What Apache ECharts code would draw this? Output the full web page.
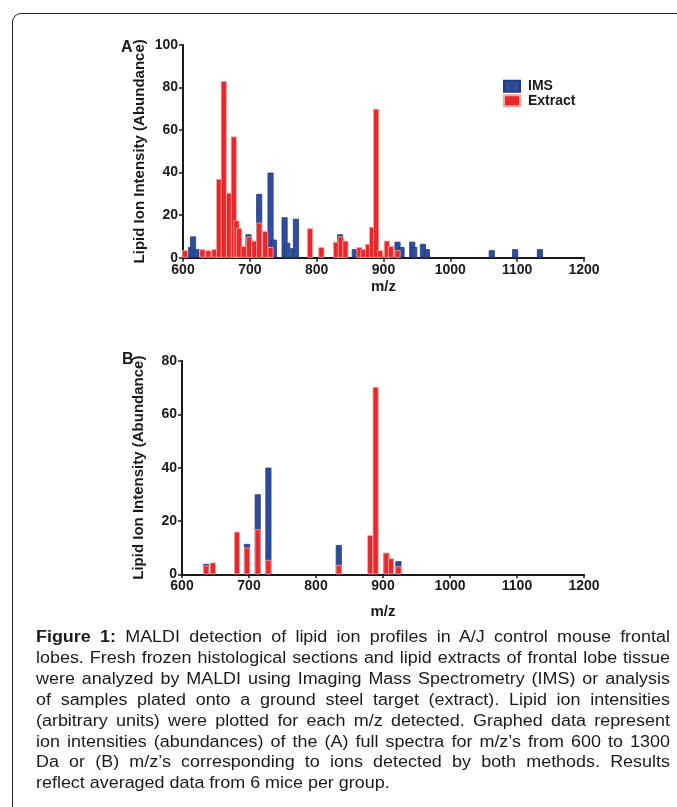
<!DOCTYPE html>
<html>
<head>
<meta charset="utf-8">
<script src="https://cdn.jsdelivr.net/npm/echarts@6/dist/echarts.min.js"></script>
<style>
  html, body { margin:0; padding:0; background:#fff; }
  #wrap { position:relative; width:677px; height:807px; overflow:hidden; background:#fff; }
  #frame { position:absolute; left:12px; top:13px; width:720px; height:830px; border:1.5px solid #222; border-radius:9px; box-sizing:border-box; }
  #chart { position:absolute; left:0; top:0; width:677px; height:807px; }
  #caption { position:absolute; left:36px; top:627px; width:566px; transform:scaleX(1.12); transform-origin:0 0; font-family:"Liberation Sans", Arial, sans-serif; font-size:16px; line-height:20.9px; color:#1a1a1a; }
  #caption div { text-align:justify; text-align-last:justify; white-space:nowrap; }
  #caption div.last { text-align-last:left; }
</style>
</head>
<body>
<div id="wrap">
  <div id="frame"></div>
  <div id="chart"></div>
  <div id="caption">
    <div><b>Figure 1:</b> MALDI detection of lipid ion profiles in A/J control mouse frontal</div>
    <div>lobes. Fresh frozen histological sections and lipid extracts of frontal lobe tissue</div>
    <div>were analyzed by MALDI using Imaging Mass Spectrometry (IMS) or analysis</div>
    <div>of samples plated onto a ground steel target (extract). Lipid ion intensities</div>
    <div>(arbitrary units) were plotted for each m/z detected. Graphed data represent</div>
    <div>ion intensities (abundances) of the (A) full spectra for m/z’s from 600 to 1300</div>
    <div>Da or (B) m/z’s corresponding to ions detected by both methods. Results</div>
    <div class="last">reflect averaged data from 6 mice per group.</div>
  </div>
</div>
<script>
// ---- Data ----
// Panel A: full spectra
const imsA_mz  = [612, 615, 620, 698, 714, 731, 736, 752, 756, 765, 769, 835, 857, 921, 927, 943, 946, 959, 965, 1062, 1097, 1134];
const imsA_val = [5, 10, 4, 11, 30, 40, 8.5, 19, 7, 4.5, 18.3, 11, 4, 7.5, 5, 7.5, 5, 6.5, 4, 3.5, 4, 4];
const extA_mz  = [603, 629, 638, 647, 654, 661, 669, 676, 680, 684, 691, 699, 707, 714, 723, 731, 790, 807, 829, 836, 843, 864, 870, 877, 883, 889, 895, 905, 911, 921];
const extA_val = [3.5, 4, 3.5, 4, 37, 83, 30.5, 57, 17.5, 14, 5.5, 10, 8, 16.5, 12.5, 5, 13.8, 5, 7.5, 10, 8, 5, 4, 6.5, 14.5, 70, 3.5, 8, 5.5, 3.5];
// Panel B: ions detected by both methods
const imsB_mz  = [636, 697, 713, 729, 834, 905, 923];
const imsB_val = [3.9, 11.4, 30, 40, 11, 8, 4.9];
const extB_mz  = [636, 646, 682, 697, 713, 729, 834, 881, 889, 905, 912, 923];
const extB_val = [3.3, 4.4, 16, 10, 16.9, 5.4, 3.5, 14.7, 70.3, 8.1, 6, 3];
// Axis ticks
const xTicks = { min: 600, max: 1200, interval: 100 };
const yTicksA = { min: 0, max: 100, interval: 20 };
const yTicksB = { min: 0, max: 80, interval: 20 };
const seriesNames = ['IMS', 'Extract'];

// ---- Chart ----
const FONT = '"Liberation Sans", Arial, sans-serif';
const BLUE = '#2f4d9c';
const RED = '#e8262b';
const pair = (xs, ys) => xs.map((x, i) => [x, ys[i]]);

function xAxis(gridIndex, nameGap) {
  return {
    type: 'value', gridIndex, min: xTicks.min, max: xTicks.max, interval: xTicks.interval,
    name: 'm/z', nameLocation: 'middle', nameGap, nameMoveOverlap: false,
    nameTextStyle: { fontFamily: FONT, fontWeight: 'bold', fontSize: 15, color: '#1a1a1a' },
    axisLine: { show: true, lineStyle: { color: '#1a1a1a', width: 2 } },
    axisTick: { show: true, inside: false, length: 4, lineStyle: { color: '#1a1a1a', width: 1.5 } },
    axisLabel: { margin: 5, fontFamily: FONT, fontWeight: 'bold', fontSize: 14, color: '#1a1a1a', formatter: v => String(v) },
    splitLine: { show: false }
  };
}
function yAxis(gridIndex, t) {
  return {
    type: 'value', gridIndex, min: t.min, max: t.max, interval: t.interval,
    name: 'Lipid Ion Intensity (Abundance)', nameLocation: 'middle', nameGap: 36, nameRotate: 90, nameMoveOverlap: false,
    nameTextStyle: { fontFamily: FONT, fontWeight: 'bold', fontSize: 15, color: '#1a1a1a' },
    axisLine: { show: true, lineStyle: { color: '#1a1a1a', width: 2 } },
    axisTick: { show: true, inside: false, length: 4, lineStyle: { color: '#1a1a1a', width: 1.5 } },
    axisLabel: { margin: 5, fontFamily: FONT, fontWeight: 'bold', fontSize: 14, color: '#1a1a1a', formatter: v => String(v) },
    splitLine: { show: false }
  };
}
function bars(name, idx, data, color, border) {
  return {
    name, type: 'bar', xAxisIndex: idx, yAxisIndex: idx, data,
    barWidth: 6, barGap: '-100%',
    itemStyle: { color, borderColor: border, borderWidth: 0.8 },
    emphasis: { disabled: true }, animation: false
  };
}

const chart = echarts.init(document.getElementById('chart'), null, { renderer: 'canvas' });
chart.setOption({
  backgroundColor: 'transparent',
  animation: false,
  title: [
    { text: 'A', left: 121, top: 40, padding: 0, textStyle: { fontFamily: FONT, fontWeight: 'bold', fontSize: 16, color: '#1a1a1a' } },
    { text: 'B', left: 122, top: 352, padding: 0, textStyle: { fontFamily: FONT, fontWeight: 'bold', fontSize: 16, color: '#1a1a1a' } }
  ],
  legend: {
    orient: 'vertical', left: 503, top: 79, padding: 0, itemWidth: 16, itemHeight: 11, itemGap: 0,
    icon: 'rect', data: seriesNames,
    textStyle: { fontFamily: FONT, fontWeight: 'bold', fontSize: 14, lineHeight: 14.5, color: '#1a1a1a', padding: [0, 0, 0, 3] }
  },
  grid: [
    { left: 183, top: 45, width: 401, height: 212.7 },
    { left: 182, top: 361, width: 402, height: 213.3 }
  ],
  xAxis: [xAxis(0, 22), xAxis(1, 30)],
  yAxis: [yAxis(0, yTicksA), yAxis(1, yTicksB)],
  series: [
    bars(seriesNames[0], 0, pair(imsA_mz, imsA_val), BLUE, '#223a7e'),
    bars(seriesNames[1], 0, pair(extA_mz, extA_val), RED, '#f6a89a'),
    bars(seriesNames[0], 1, pair(imsB_mz, imsB_val), BLUE, '#223a7e'),
    bars(seriesNames[1], 1, pair(extB_mz, extB_val), RED, '#f6a89a')
  ]
});
</script>
</body>
</html>
